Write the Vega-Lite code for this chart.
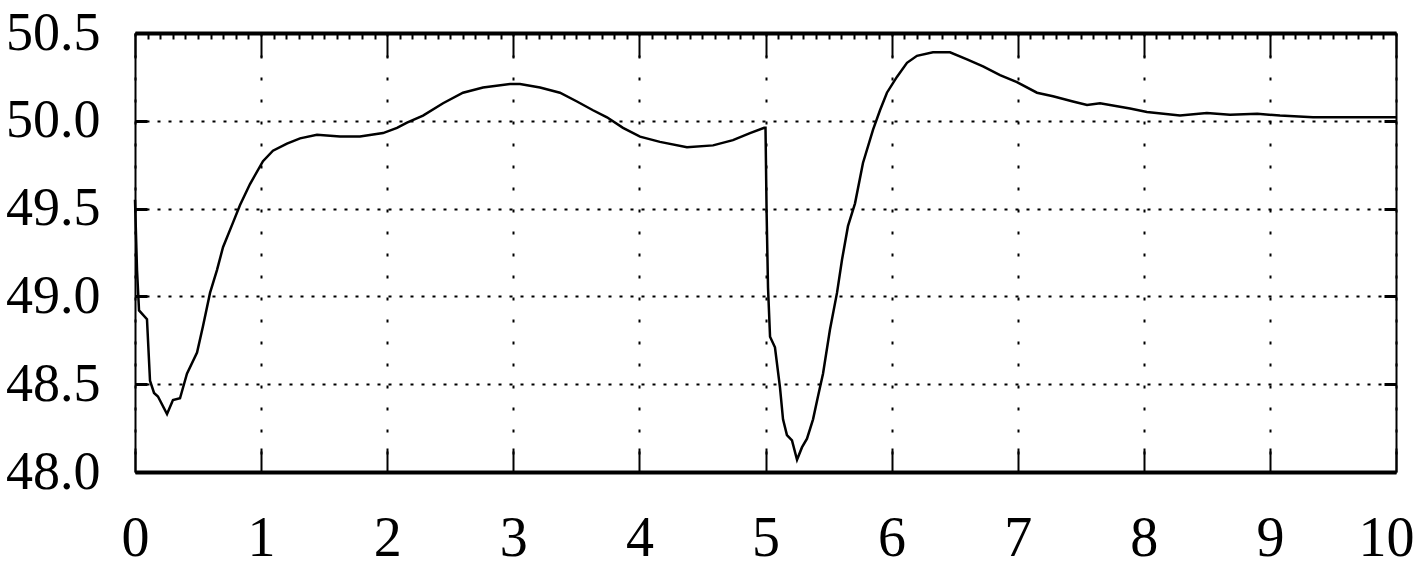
{
  "$schema": "https://vega.github.io/schema/vega-lite/v6.json",
  "width": 1261,
  "height": 439,
  "autosize": {"type": "none"},
  "padding": {"left": 135, "top": 33, "right": 21, "bottom": 95},
  "background": "white",
  "config": {"view": {"stroke": null}, "axis": {"domainColor": "black", "tickColor": "black", "gridColor": "black", "labelColor": "black", "labelFont": "Liberation Serif"}},
  "datasets": {
    "f": [
      {"t": 0, "v": 49.55}, {"t": 0.016, "v": 49.15}, {"t": 0.032, "v": 48.92}, {"t": 0.095, "v": 48.87},
      {"t": 0.119, "v": 48.52}, {"t": 0.151, "v": 48.45}, {"t": 0.182, "v": 48.43}, {"t": 0.254, "v": 48.33},
      {"t": 0.301, "v": 48.41}, {"t": 0.357, "v": 48.42}, {"t": 0.412, "v": 48.56}, {"t": 0.492, "v": 48.68},
      {"t": 0.539, "v": 48.83}, {"t": 0.595, "v": 49.02}, {"t": 0.650, "v": 49.15}, {"t": 0.698, "v": 49.28},
      {"t": 0.777, "v": 49.42}, {"t": 0.833, "v": 49.52}, {"t": 0.912, "v": 49.64}, {"t": 1.015, "v": 49.77},
      {"t": 1.094, "v": 49.83}, {"t": 1.205, "v": 49.87}, {"t": 1.309, "v": 49.90}, {"t": 1.443, "v": 49.92},
      {"t": 1.626, "v": 49.91}, {"t": 1.784, "v": 49.91}, {"t": 1.967, "v": 49.93}, {"t": 2.078, "v": 49.96},
      {"t": 2.157, "v": 49.99}, {"t": 2.284, "v": 50.03}, {"t": 2.443, "v": 50.10}, {"t": 2.601, "v": 50.16},
      {"t": 2.760, "v": 50.19}, {"t": 2.974, "v": 50.21}, {"t": 3.053, "v": 50.21}, {"t": 3.212, "v": 50.19},
      {"t": 3.370, "v": 50.16}, {"t": 3.505, "v": 50.11}, {"t": 3.632, "v": 50.06}, {"t": 3.743, "v": 50.02},
      {"t": 3.870, "v": 49.96}, {"t": 4.005, "v": 49.91}, {"t": 4.163, "v": 49.88}, {"t": 4.377, "v": 49.85},
      {"t": 4.584, "v": 49.86}, {"t": 4.742, "v": 49.89}, {"t": 4.877, "v": 49.93}, {"t": 4.990, "v": 49.96},
      {"t": 5.0, "v": 49.96}, {"t": 5.009, "v": 49.47}, {"t": 5.020, "v": 49.05}, {"t": 5.036, "v": 48.77},
      {"t": 5.075, "v": 48.71}, {"t": 5.115, "v": 48.48}, {"t": 5.139, "v": 48.30}, {"t": 5.170, "v": 48.21},
      {"t": 5.210, "v": 48.18}, {"t": 5.250, "v": 48.07}, {"t": 5.289, "v": 48.14}, {"t": 5.329, "v": 48.19},
      {"t": 5.377, "v": 48.30}, {"t": 5.416, "v": 48.43}, {"t": 5.456, "v": 48.56}, {"t": 5.511, "v": 48.81},
      {"t": 5.567, "v": 49.02}, {"t": 5.607, "v": 49.21}, {"t": 5.654, "v": 49.40}, {"t": 5.710, "v": 49.53},
      {"t": 5.773, "v": 49.76}, {"t": 5.853, "v": 49.95}, {"t": 5.908, "v": 50.06}, {"t": 5.963, "v": 50.16},
      {"t": 6.042, "v": 50.25}, {"t": 6.122, "v": 50.33}, {"t": 6.201, "v": 50.37}, {"t": 6.328, "v": 50.39},
      {"t": 6.463, "v": 50.39}, {"t": 6.598, "v": 50.35}, {"t": 6.725, "v": 50.31}, {"t": 6.860, "v": 50.26},
      {"t": 6.994, "v": 50.22}, {"t": 7.153, "v": 50.16}, {"t": 7.280, "v": 50.14}, {"t": 7.438, "v": 50.11},
      {"t": 7.550, "v": 50.09}, {"t": 7.653, "v": 50.10}, {"t": 7.891, "v": 50.07}, {"t": 8.025, "v": 50.05},
      {"t": 8.287, "v": 50.03}, {"t": 8.500, "v": 50.045}, {"t": 8.684, "v": 50.035}, {"t": 8.900, "v": 50.04},
      {"t": 9.080, "v": 50.03}, {"t": 9.342, "v": 50.02}, {"t": 9.873, "v": 50.02}, {"t": 10.0, "v": 50.02}
    ]
  },
  "layer": [
    {
      "data": {"name": "f"},
      "mark": {"type": "line", "color": "black", "strokeWidth": 2.5, "interpolate": "linear"},
      "encoding": {
        "x": {"field": "t", "type": "quantitative", "title": null,
              "scale": {"domain": [0, 10], "nice": false, "zero": false},
              "axis": {"orient": "bottom", "values": [0,1,2,3,4,5,6,7,8,9,10], "format": "d",
                       "labelFontSize": 56, "labelPadding": 63, "tickSize": -24, "tickWidth": 2,
                       "labelOffset": {"expr": "datum.value == 10 ? -10 : 0"},
                       "domainWidth": 4, "grid": true, "gridDash": [3, 19], "gridWidth": 2, "labelFlush": false}},
        "y": {"field": "v", "type": "quantitative", "title": null,
              "scale": {"domain": [48, 50.5], "nice": false, "zero": false},
              "axis": {"orient": "left", "values": [48, 48.5, 49, 49.5, 50, 50.5], "format": ".1f",
                       "labelFontSize": 54, "labelPadding": 47, "tickSize": -12, "tickWidth": 3,
                       "domainWidth": 2, "grid": true, "gridDash": [3, 8], "gridWidth": 2, "labelFlush": false}}
      }
    },
    {
      "data": {"name": "f"},
      "mark": {"type": "line", "strokeOpacity": 0},
      "encoding": {
        "x": {"field": "t", "type": "quantitative",
              "axis": {"orient": "top", "values": [0,1,2,3,4,5,6,7,8,9,10], "labels": false, "title": null,
                       "tickSize": -24, "tickWidth": 2, "domainWidth": 4, "grid": false}},
        "y": {"field": "v", "type": "quantitative",
              "axis": {"orient": "right", "values": [48, 48.5, 49, 49.5, 50, 50.5], "labels": false, "title": null,
                       "tickSize": -12, "tickWidth": 3, "domainWidth": 2, "grid": false}}
      }
    },
    {
      "data": {"name": "f"},
      "mark": {"type": "line", "strokeOpacity": 0},
      "encoding": {
        "x": {"field": "t", "type": "quantitative",
              "axis": {"orient": "top", "values": [0.1,0.2,0.3,0.4,0.5,0.6,0.7,0.8,0.9,1.1,1.2,1.3,1.4,1.5,1.6,1.7,1.8,1.9,2.1,2.2,2.3,2.4,2.5,2.6,2.7,2.8,2.9,3.1,3.2,3.3,3.4,3.5,3.6,3.7,3.8,3.9,4.1,4.2,4.3,4.4,4.5,4.6,4.7,4.8,4.9,5.1,5.2,5.3,5.4,5.5,5.6,5.7,5.8,5.9,6.1,6.2,6.3,6.4,6.5,6.6,6.7,6.8,6.9,7.1,7.2,7.3,7.4,7.5,7.6,7.7,7.8,7.9,8.1,8.2,8.3,8.4,8.5,8.6,8.7,8.8,8.9,9.1,9.2,9.3,9.4,9.5,9.6,9.7,9.8,9.9],
                       "labels": false, "title": null, "domain": false,
                       "tickSize": -6, "tickWidth": 2, "grid": false}},
        "y": {"field": "v", "type": "quantitative", "axis": null}
      }
    }
  ],
  "resolve": {"axis": {"x": "independent", "y": "independent"}}
}
